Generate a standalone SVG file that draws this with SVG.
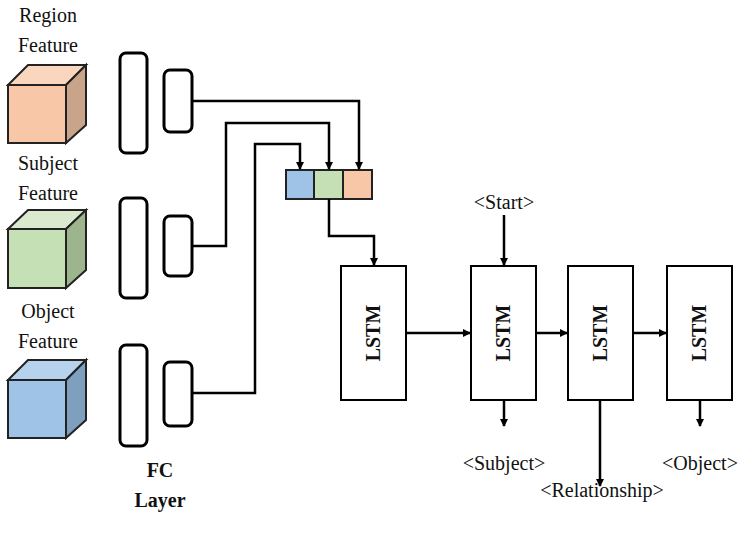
<svg xmlns="http://www.w3.org/2000/svg" width="753" height="534" viewBox="0 0 753 534">
<defs>
<marker id="ah" markerWidth="8" markerHeight="8" refX="7" refY="4" orient="auto" markerUnits="userSpaceOnUse"><path d="M0,0 L8,4 L0,8 z" fill="#000"/></marker>
<style>
text{font-family:"Liberation Serif",serif;font-size:20px;fill:#111;text-anchor:middle}
.b{font-weight:bold}
.fc{fill:#fff;stroke:#000;stroke-width:3}
.cube{stroke:#222;stroke-width:2}
.ln{fill:none;stroke:#000;stroke-width:2.5}
.lstm{fill:#fff;stroke:#000;stroke-width:2}
</style>
</defs>
<rect width="753" height="534" fill="#fff"/>
<g id="region">
<text x="48" y="22">Region</text><text x="48" y="52">Feature</text>
<polygon class="cube" points="8,85 28,65 86,65 66,85" fill="#f9d6bd"/>
<polygon class="cube" points="66,85 86,65 86,125 66,143" fill="#c9a48b"/>
<rect class="cube" x="8" y="85" width="58" height="58" fill="#f7c7a8"/>
</g>
<g id="subject">
<text x="48" y="170">Subject</text><text x="48" y="200">Feature</text>
<polygon class="cube" points="8,229 28,210 86,210 66,229" fill="#dbeacf"/>
<polygon class="cube" points="66,229 86,210 86,270 66,288" fill="#9db58c"/>
<rect class="cube" x="8" y="229" width="58" height="59" fill="#c6e0b5"/>
</g>
<g id="object">
<text x="48" y="318">Object</text><text x="48" y="348">Feature</text>
<polygon class="cube" points="8,380 28,360 86,360 66,380" fill="#b7d2ec"/>
<polygon class="cube" points="66,380 86,360 86,420 66,438" fill="#7f9fbe"/>
<rect class="cube" x="8" y="380" width="58" height="58" fill="#9ec3e6"/>
</g>
<g id="fc">
<rect class="fc" x="120" y="53" width="27" height="100" rx="6"/>
<rect class="fc" x="164" y="70" width="28" height="62" rx="6"/>
<rect class="fc" x="120" y="198" width="27" height="100" rx="6"/>
<rect class="fc" x="164" y="216" width="28" height="60" rx="6"/>
<rect class="fc" x="120" y="345" width="27" height="101" rx="6"/>
<rect class="fc" x="164" y="362" width="28" height="64" rx="6"/>
<text class="b" x="160" y="477">FC</text><text class="b" x="160" y="507">Layer</text>
</g>
<g id="concat">
<rect x="286" y="170" width="28" height="29" fill="#9ec3e6" stroke="#222" stroke-width="2"/>
<rect x="314" y="170" width="29" height="29" fill="#c6e0b5" stroke="#222" stroke-width="2"/>
<rect x="343" y="170" width="29" height="29" fill="#f7c7a8" stroke="#222" stroke-width="2"/>
</g>
<g id="lstm1"><rect class="lstm" x="341" y="266" width="65" height="134"/><text class="b" transform="translate(380,333) rotate(-90)">LSTM</text></g>
<g id="lstm2"><rect class="lstm" x="471" y="266" width="65" height="134"/><text class="b" transform="translate(510,333) rotate(-90)">LSTM</text></g>
<g id="lstm3"><rect class="lstm" x="568" y="266" width="65" height="134"/><text class="b" transform="translate(607,333) rotate(-90)">LSTM</text></g>
<g id="lstm4"><rect class="lstm" x="667" y="266" width="65" height="134"/><text class="b" transform="translate(706,333) rotate(-90)">LSTM</text></g>
<g id="labels">
<text x="504" y="209">&lt;Start&gt;</text>
<text x="504" y="470">&lt;Subject&gt;</text>
<text x="602" y="497">&lt;Relationship&gt;</text>
<text x="700" y="470">&lt;Object&gt;</text>
</g>
<g id="connectors">
<polyline class="ln" points="192,101 359,101 359,169" marker-end="url(#ah)"/>
<polyline class="ln" points="192,246 226,246 226,123 329,123 329,169" marker-end="url(#ah)"/>
<polyline class="ln" points="192,393 255,393 255,144 300,144 300,169" marker-end="url(#ah)"/>
<polyline class="ln" points="329,199 329,236 374,236 374,265" marker-end="url(#ah)"/>
<line class="ln" x1="406" y1="333" x2="470" y2="333" marker-end="url(#ah)"/>
<line class="ln" x1="536" y1="333" x2="567" y2="333" marker-end="url(#ah)"/>
<line class="ln" x1="633" y1="333" x2="666" y2="333" marker-end="url(#ah)"/>
<line class="ln" x1="504" y1="215" x2="504" y2="265" marker-end="url(#ah)"/>
<line class="ln" x1="504" y1="400" x2="504" y2="426" marker-end="url(#ah)"/>
<line class="ln" x1="600" y1="400" x2="600" y2="486" marker-end="url(#ah)"/>
<line class="ln" x1="700" y1="400" x2="700" y2="426" marker-end="url(#ah)"/>
</g>
</svg>
